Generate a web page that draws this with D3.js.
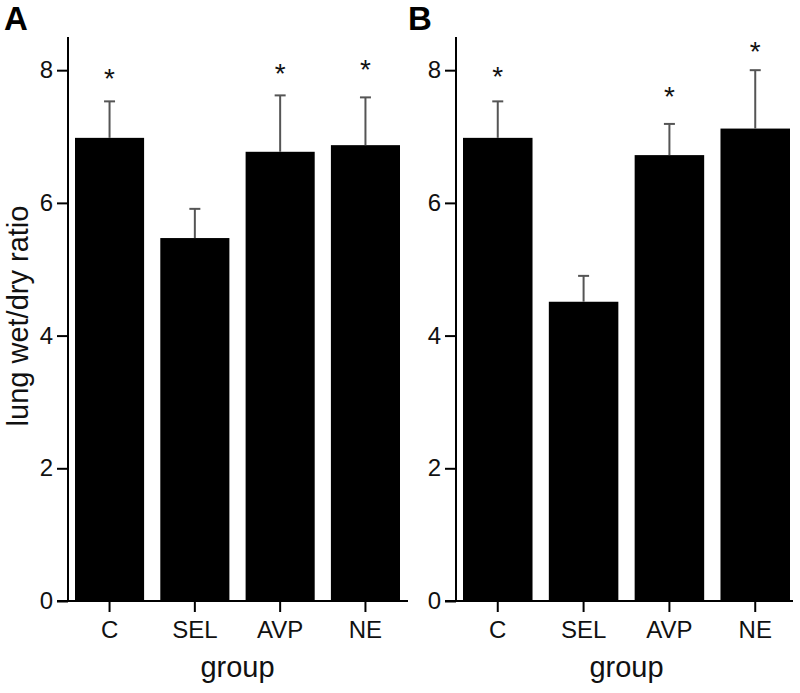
<!DOCTYPE html>
<html>
<head>
<meta charset="utf-8">
<script src="https://cdn.jsdelivr.net/npm/d3@7"></script>
<style>
  html, body { margin: 0; padding: 0; background: #fff; }
  svg { display: block; font-family: "Liberation Sans", Arial, Helvetica, sans-serif; }
</style>
</head>
<body>
<svg id="chart" width="800" height="693"></svg>
<script>
const categories = ["C", "SEL", "AVP", "NE"];
const yTicks = [0, 2, 4, 6, 8];

// Panel A
const meanA = [6.98, 5.47, 6.77, 6.87];
const errA  = [7.53, 5.91, 7.62, 7.59];
const starA = [7.97, null, 8.05, 8.11];

// Panel B
const meanB = [6.98, 4.51, 6.72, 7.12];
const errB  = [7.53, 4.90, 7.19, 8.00];
const starB = [8.00, null, 7.70, 8.38];

const panels = [
  { label: "A", mean: meanA, err: errA, star: starA, axisX: 68, barRange: [75, 400], xEnd: 408, labelX: 4 },
  { label: "B", mean: meanB, err: errB, star: starB, axisX: 456, barRange: [463, 790], xEnd: 793, labelX: 408 }
];

const svg = d3.select("#chart");
const y = d3.scaleLinear().domain([0, 8.5]).range([601, 37]);

panels.forEach(p => {
  const g = svg.append("g");
  const x = d3.scaleBand().domain(categories).range(p.barRange).paddingInner(0.19).paddingOuter(0);

  // bars
  g.selectAll("rect.bar").data(categories).enter().append("rect")
    .attr("x", d => x(d))
    .attr("width", x.bandwidth())
    .attr("y", (d, i) => y(p.mean[i]))
    .attr("height", (d, i) => y(0) - y(p.mean[i]))
    .attr("fill", "#000");

  // error bars
  const eb = g.selectAll("g.err").data(categories).enter().append("g");
  eb.append("line")
    .attr("x1", d => x(d) + x.bandwidth() / 2)
    .attr("x2", d => x(d) + x.bandwidth() / 2)
    .attr("y1", (d, i) => y(p.mean[i]))
    .attr("y2", (d, i) => y(p.err[i]))
    .attr("stroke", "#555").attr("stroke-width", 2);
  eb.append("line")
    .attr("x1", d => x(d) + x.bandwidth() / 2 - 5.5)
    .attr("x2", d => x(d) + x.bandwidth() / 2 + 5.5)
    .attr("y1", (d, i) => y(p.err[i]))
    .attr("y2", (d, i) => y(p.err[i]))
    .attr("stroke", "#555").attr("stroke-width", 2);

  // significance stars
  g.selectAll("text.star").data(categories.filter((d, i) => p.star[i] != null)).enter().append("text")
    .attr("x", d => x(d) + x.bandwidth() / 2)
    .attr("y", d => y(p.star[categories.indexOf(d)]) + 16)
    .attr("text-anchor", "middle")
    .attr("font-size", 28)
    .attr("fill", "#111")
    .text("*");

  // y axis
  const yAxis = d3.axisLeft(y).tickValues(yTicks).tickSize(11).tickPadding(4).tickFormat(d3.format("d"));
  const ya = g.append("g").attr("transform", `translate(${p.axisX},0)`).call(yAxis);
  ya.select(".domain").remove();
  ya.selectAll(".tick line").attr("stroke", "#000").attr("stroke-width", 2);
  ya.selectAll(".tick text").attr("font-size", 24).attr("fill", "#111")
    .attr("font-family", "'Liberation Sans', Arial, sans-serif");
  g.append("line")
    .attr("x1", p.axisX).attr("x2", p.axisX)
    .attr("y1", y(0)).attr("y2", y(8.5))
    .attr("stroke", "#000").attr("stroke-width", 2);

  // x axis
  const xAxis = d3.axisBottom(x).tickSize(11).tickPadding(9);
  const xa = g.append("g").attr("transform", `translate(0,${y(0)})`).call(xAxis);
  xa.select(".domain").remove();
  xa.selectAll(".tick line").attr("stroke", "#000").attr("stroke-width", 2);
  xa.selectAll(".tick text").attr("font-size", 24).attr("fill", "#111")
    .attr("font-family", "'Liberation Sans', Arial, sans-serif");
  g.append("line")
    .attr("x1", p.axisX - 11).attr("x2", p.xEnd)
    .attr("y1", y(0)).attr("y2", y(0))
    .attr("stroke", "#000").attr("stroke-width", 2);

  // x title
  g.append("text")
    .attr("x", (p.barRange[0] + p.barRange[1]) / 2)
    .attr("y", 677)
    .attr("text-anchor", "middle")
    .attr("font-size", 29)
    .attr("fill", "#111")
    .text("group");

  // panel letter
  g.append("text")
    .attr("x", p.labelX)
    .attr("y", 30)
    .attr("font-size", 33)
    .attr("font-weight", "bold")
    .attr("fill", "#000")
    .text(p.label);
});

// y title
svg.append("text")
  .attr("transform", "translate(28,316) rotate(-90)")
  .attr("text-anchor", "middle")
  .attr("font-size", 29)
  .attr("fill", "#111")
  .text("lung wet/dry ratio");
</script>
</body>
</html>
